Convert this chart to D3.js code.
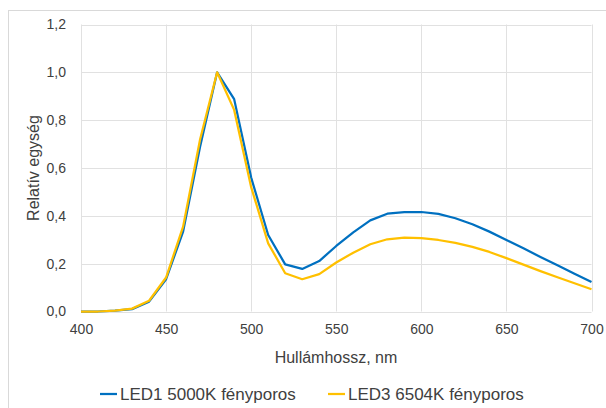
<!DOCTYPE html>
<html>
<head>
<meta charset="utf-8">
<script src="https://cdn.jsdelivr.net/npm/d3@7"></script>
<style>
  html, body { margin: 0; padding: 0; background: #fff; }
  svg { display: block; font-family: "Liberation Sans", Arial, sans-serif; }
</style>
</head>
<body>
<svg id="chart" width="606" height="408"></svg>
<script>
// Wavelengths (nm), sampled every 10 nm
const wavelengths = [400, 410, 420, 430, 440, 450, 460, 470, 480, 490, 500,
  510, 520, 530, 540, 550, 560, 570, 580, 590, 600,
  610, 620, 630, 640, 650, 660, 670, 680, 690, 700];

// Relative spectral power, LED1 5000K phosphor
const led1 = [0, 0, 0.004, 0.01, 0.041, 0.135, 0.334, 0.69, 1.0, 0.888, 0.56,
  0.32, 0.197, 0.178, 0.211, 0.274, 0.331, 0.381, 0.409, 0.416, 0.416,
  0.408, 0.39, 0.365, 0.334, 0.299, 0.264, 0.228, 0.193, 0.158, 0.123];

// Relative spectral power, LED3 6504K phosphor
const led3 = [0, 0, 0.004, 0.012, 0.045, 0.142, 0.355, 0.72, 1.0, 0.843, 0.52,
  0.285, 0.16, 0.135, 0.156, 0.205, 0.246, 0.281, 0.302, 0.309, 0.307,
  0.299, 0.287, 0.27, 0.249, 0.223, 0.196, 0.169, 0.143, 0.118, 0.093];

const seriesNames = ["LED1 5000K fényporos", "LED3 6504K fényporos"];
const seriesColors = ["#0070C0", "#FFC000"];
const xTicks = [400, 450, 500, 550, 600, 650, 700];
const yTicks = [0, 0.2, 0.4, 0.6, 0.8, 1.0, 1.2];
const xTitle = "Hullámhossz, nm";
const yTitle = "Relatív egység";

const svg = d3.select("#chart");

// Outer chart frame
svg.append("rect")
  .attr("x", 8.5).attr("y", 10.5)
  .attr("width", 620).attr("height", 420)
  .attr("fill", "none").attr("stroke", "#d9d9d9").attr("stroke-width", 1);

const plot = { left: 81, right: 591.5, top: 24.5, bottom: 311.5 };

const x = d3.scaleLinear().domain([400, 700]).range([plot.left, plot.right]);
const y = d3.scaleLinear().domain([0, 1.2]).range([plot.bottom, plot.top]);

const fmt = d => d3.format(".1f")(d).replace(".", ",");

// Gridlines
const grid = svg.append("g").attr("stroke", "#e1e1e1").attr("stroke-width", 1);
grid.selectAll("line.h").data(yTicks).join("line")
  .attr("x1", plot.left).attr("x2", plot.right)
  .attr("y1", d => Math.round(y(d)) + 0.5).attr("y2", d => Math.round(y(d)) + 0.5);
grid.selectAll("line.v").data(xTicks).join("line")
  .attr("y1", plot.top).attr("y2", plot.bottom)
  .attr("x1", d => Math.round(x(d)) + 0.5).attr("x2", d => Math.round(x(d)) + 0.5);

// Axes (labels only, Excel-style)
const xAxis = svg.append("g")
  .attr("transform", `translate(0,${plot.bottom})`)
  .call(d3.axisBottom(x).tickValues(xTicks).tickSize(0).tickPadding(13).tickFormat(d3.format("d")));
xAxis.select(".domain").remove();
xAxis.selectAll("text").attr("font-size", 14).attr("fill", "#404040")
  .attr("font-family", "Liberation Sans, Arial, sans-serif");

const yAxis = svg.append("g")
  .attr("transform", `translate(${plot.left},0)`)
  .call(d3.axisLeft(y).tickValues(yTicks).tickSize(0).tickPadding(15).tickFormat(fmt));
yAxis.select(".domain").remove();
yAxis.selectAll("text").attr("font-size", 14).attr("fill", "#404040")
  .attr("font-family", "Liberation Sans, Arial, sans-serif");

// Axis titles
svg.append("text")
  .attr("x", 336).attr("y", 363)
  .attr("text-anchor", "middle")
  .attr("font-size", 16).attr("fill", "#404040")
  .text(xTitle);

svg.append("text")
  .attr("transform", "translate(39,168) rotate(-90)")
  .attr("text-anchor", "middle")
  .attr("font-size", 16).attr("fill", "#404040")
  .text(yTitle);

// Series lines
const line = d3.line()
  .x((d, i) => x(wavelengths[i]))
  .y(d => y(d));

[led1, led3].forEach((vals, k) => {
  svg.append("path")
    .datum(vals)
    .attr("fill", "none")
    .attr("stroke", seriesColors[k])
    .attr("stroke-width", 2.25)
    .attr("stroke-linejoin", "round")
    .attr("d", line);
});

// Legend
const legendX = [100, 328];
const legend = svg.append("g");
seriesNames.forEach((name, k) => {
  const g = legend.append("g").attr("transform", `translate(${legendX[k]},394)`);
  g.append("line").attr("x1", 0).attr("x2", 17).attr("y1", 0).attr("y2", 0)
    .attr("stroke", seriesColors[k]).attr("stroke-width", 2.25);
  g.append("text").attr("x", 20).attr("y", 6)
    .attr("font-size", 17).attr("fill", "#404040").text(name);
});
</script>
</body>
</html>
